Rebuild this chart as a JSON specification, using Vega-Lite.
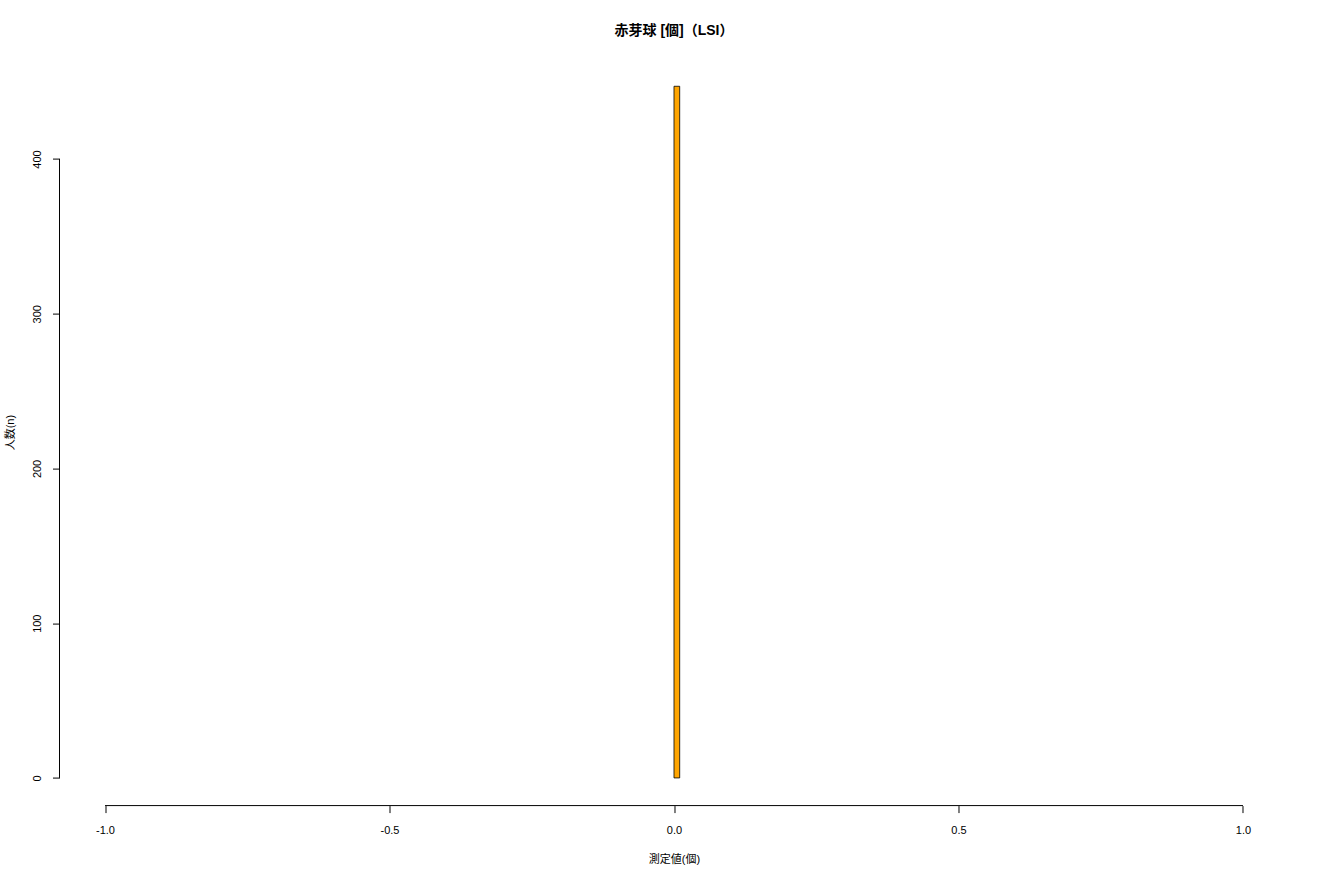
{
  "$schema": "https://vega.github.io/schema/vega-lite/v6.json",
  "autosize": "none",
  "padding": {"left": 59.5, "top": 58.6, "right": 31.5, "bottom": 74.3},
  "width": 1229,
  "height": 747,
  "background": "white",
  "title": {
    "text": "赤芽球 [個]（LSI）",
    "font": "Liberation Sans, Noto Sans CJK JP",
    "fontSize": 14,
    "fontWeight": "bold",
    "anchor": "middle",
    "offset": 21,
    "color": "black"
  },
  "data": {
    "values": [
      {"bin_start": 0, "bin_end": 0.01, "count": 447}
    ]
  },
  "layer": [
    {
      "mark": {"type": "bar", "fill": "#FFA500", "stroke": "black", "strokeWidth": 0.8},
      "encoding": {
        "x": {
          "field": "bin_start",
          "type": "quantitative",
          "scale": {"domain": [-1.08, 1.08], "nice": false, "zero": false},
          "axis": {
            "values": [-1, -0.5, 0, 0.5, 1],
            "format": ".1f",
            "labelPadding": 11.5,
            "title": "測定値(個)",
            "titlePadding": 18
          }
        },
        "x2": {"field": "bin_end"},
        "y": {
          "field": "count",
          "type": "quantitative",
          "scale": {"domain": [-17.88, 464.88], "nice": false, "zero": false},
          "axis": {
            "values": [0, 100, 200, 300, 400],
            "labelAngle": -90,
            "labelAlign": "center",
            "labelBaseline": "bottom",
            "labelPadding": 10,
            "title": "人数(n)",
            "titlePadding": 16
          }
        },
        "y2": {"datum": 0}
      }
    },
    {
      "mark": {"type": "rule", "color": "black", "strokeWidth": 1},
      "encoding": {
        "x": {"datum": -1.08, "type": "quantitative"},
        "y": {"datum": 0, "type": "quantitative"},
        "y2": {"datum": 400}
      }
    },
    {
      "mark": {"type": "rule", "color": "black", "strokeWidth": 1},
      "encoding": {
        "x": {"datum": -1, "type": "quantitative"},
        "x2": {"datum": 1},
        "y": {"datum": -17.88, "type": "quantitative"}
      }
    }
  ],
  "config": {
    "locale": {
      "number": {
        "decimal": ".",
        "thousands": ",",
        "grouping": [3],
        "currency": ["$", ""],
        "minus": "-"
      }
    },
    "view": {"stroke": null},
    "axis": {
      "domain": false,
      "grid": false,
      "tickColor": "black",
      "tickSize": 7,
      "labelFont": "Liberation Sans, Noto Sans CJK JP",
      "labelFontSize": 11,
      "labelColor": "black",
      "titleFont": "Liberation Sans, Noto Sans CJK JP",
      "titleFontSize": 11,
      "titleFontWeight": "normal",
      "titleColor": "black"
    }
  }
}
